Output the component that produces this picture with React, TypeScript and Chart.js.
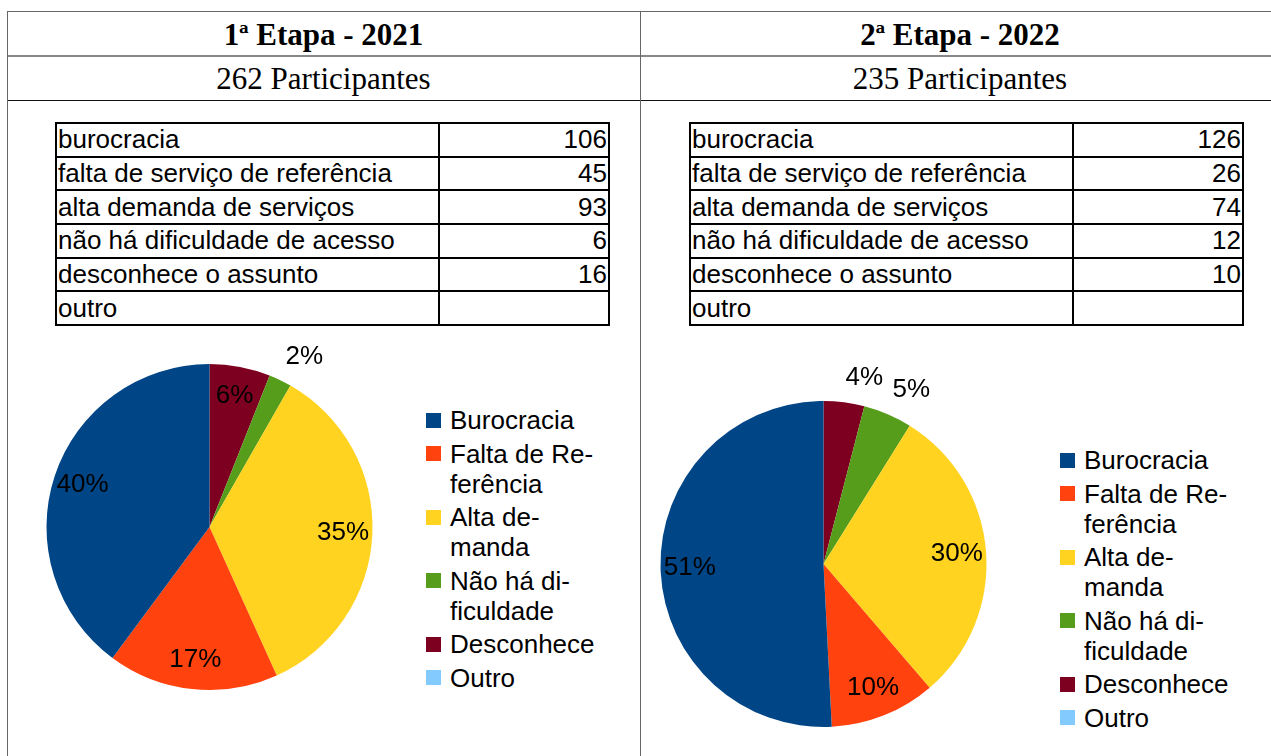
import React, { useEffect, useRef } from "react";
import { Chart, registerables } from "chart.js";

Chart.register(...registerables);

// ---- data ----
const categories = ["Burocracia", "Falta de Referência", "Alta demanda", "Não há dificuldade", "Desconhece", "Outro"];
const legendLines = [
  ["Burocracia"],
  ["Falta de Re-", "ferência"],
  ["Alta de-", "manda"],
  ["Não há di-", "ficuldade"],
  ["Desconhece"],
  ["Outro"],
];
const tableLabels = [
  "burocracia",
  "falta de serviço de referência",
  "alta demanda de serviços",
  "não há dificuldade de acesso",
  "desconhece o assunto",
  "outro",
];
const values2021: (number | null)[] = [106, 45, 93, 6, 16, null];
const values2022: (number | null)[] = [126, 26, 74, 12, 10, null];
const colors = ["#004586", "#ff420e", "#ffd320", "#579d1c", "#7e0021", "#83caff"];
const stageTitles = ["1ª Etapa - 2021", "2ª Etapa - 2022"];
const participants = ["262 Participantes", "235 Participantes"];

const SANS = "'Liberation Sans', Arial, sans-serif";
const SERIF = "'Liberation Serif', 'Times New Roman', serif";

const pctLabels = {
  id: "pctLabels",
  afterDatasetsDraw(chart: any) {
    const ctx = chart.ctx;
    const meta = chart.getDatasetMeta(0);
    const data = chart.data.datasets[0].data as number[];
    const total = data.reduce((a, b) => a + (b || 0), 0);
    ctx.save();
    ctx.font = `26px ${SANS}`;
    ctx.fillStyle = "#000";
    meta.data.forEach((arc: any, i: number) => {
      const v = data[i];
      if (!v) return;
      const p = arc.getProps(["x", "y", "startAngle", "endAngle", "outerRadius"], true);
      const mid = (p.startAngle + p.endAngle) / 2;
      const pct = (v / total) * 100;
      const txt = Math.round(pct) + "%";
      const cx = Math.cos(mid);
      const cy = Math.sin(mid);
      if (pct >= 5.5) {
        const d = p.outerRadius * 0.82;
        ctx.textAlign = "center";
        ctx.textBaseline = "middle";
        ctx.fillText(txt, p.x + cx * d, p.y + cy * d);
      } else {
        const d = p.outerRadius + 12;
        ctx.textAlign = cx >= 0 ? "left" : "right";
        ctx.textBaseline = cy < 0 ? "bottom" : "top";
        ctx.fillText(txt, p.x + cx * d, p.y + cy * d);
      }
    });
    ctx.restore();
  },
};

function Pie({ values, left, top }: { values: (number | null)[]; left: number; top: number }) {
  const ref = useRef<HTMLCanvasElement>(null);
  useEffect(() => {
    if (!ref.current) return;
    // drawn counter-clockwise from 12 o'clock in the original: reverse order, draw clockwise
    const labels = [...categories].reverse();
    const data = [...values].map((v) => (v == null ? 0 : v)).reverse();
    const bg = [...colors].reverse();
    const chart = new Chart(ref.current, {
      type: "pie",
      data: {
        labels,
        datasets: [{ data, backgroundColor: bg, borderWidth: 0 }],
      },
      options: {
        animation: false,
        responsive: false,
        devicePixelRatio: 1,
        layout: { padding: { left: 37, right: 37, top: 47, bottom: 47 } },
        plugins: { legend: { display: false }, tooltip: { enabled: false } },
        events: [],
      },
      plugins: [pctLabels],
    });
    return () => chart.destroy();
  }, [values]);
  return (
    <canvas
      ref={ref}
      width={401}
      height={420}
      style={{ position: "absolute", left, top, width: 401, height: 420 }}
    />
  );
}

function Legend({ left, top }: { left: number; top: number }) {
  return (
    <div style={{ position: "absolute", left, top, fontFamily: SANS, fontSize: 26, color: "#000" }}>
      {legendLines.map((lines, i) => (
        <div key={i} style={{ position: "relative", marginBottom: 3.5 }}>
          <div
            style={{
              position: "absolute",
              left: 0,
              top: 7.5,
              width: 15,
              height: 15,
              background: colors[i],
            }}
          />
          <div style={{ marginLeft: 24 }}>
            {lines.map((l, j) => (
              <div key={j} style={{ height: 30, lineHeight: "30px", whiteSpace: "nowrap" }}>
                {l}
              </div>
            ))}
          </div>
        </div>
      ))}
    </div>
  );
}

function DataTable({ values, left, top }: { values: (number | null)[]; left: number; top: number }) {
  return (
    <div
      style={{
        position: "absolute",
        left,
        top,
        width: 555,
        height: 204,
        boxSizing: "border-box",
        borderTop: "2px solid #000",
        borderLeft: "2px solid #000",
        display: "grid",
        gridTemplateColumns: "383px 1fr",
        gridTemplateRows: "repeat(6, 1fr)",
        fontFamily: SANS,
        fontSize: 26,
        color: "#000",
      }}
    >
      {tableLabels.map((lab, i) => (
        <React.Fragment key={i}>
          <div
            style={{
              borderRight: "2px solid #000",
              borderBottom: "2px solid #000",
              display: "flex",
              alignItems: "center",
              paddingLeft: 1,
              whiteSpace: "nowrap",
              overflow: "hidden",
            }}
          >
            {lab}
          </div>
          <div
            style={{
              borderRight: "2px solid #000",
              borderBottom: "2px solid #000",
              display: "flex",
              alignItems: "center",
              justifyContent: "flex-end",
              paddingRight: 1,
            }}
          >
            {values[i] == null ? "" : values[i]}
          </div>
        </React.Fragment>
      ))}
    </div>
  );
}

export default function App() {
  const line = (style: React.CSSProperties) => <div style={{ position: "absolute", ...style }} />;
  return (
    <div
      style={{
        position: "absolute",
        left: 0,
        top: 0,
        width: 1271,
        height: 756,
        overflow: "hidden",
        background: "#fff",
      }}
    >
      {/* outer frame */}
      {line({ left: 7, top: 11, width: 1300, height: 1, background: "#666" })}
      {line({ left: 7, top: 55, width: 1300, height: 2, background: "#888" })}
      {line({ left: 7, top: 100, width: 1300, height: 1, background: "#111" })}
      {line({ left: 7, top: 11, width: 1, height: 800, background: "#666" })}
      {line({ left: 640, top: 11, width: 1, height: 800, background: "#666" })}

      {[0, 1].map((c) => (
        <React.Fragment key={c}>
          <div
            style={{
              position: "absolute",
              left: c === 0 ? 7 : 640,
              width: c === 0 ? 633 : 640,
              top: 12,
              height: 43,
              lineHeight: "45px",
              textAlign: "center",
              fontFamily: SERIF,
              fontWeight: "bold",
              fontSize: 31,
              color: "#000",
            }}
          >
            {stageTitles[c]}
          </div>
          <div
            style={{
              position: "absolute",
              left: c === 0 ? 7 : 640,
              width: c === 0 ? 633 : 640,
              top: 57,
              height: 43,
              lineHeight: "43px",
              textAlign: "center",
              fontFamily: SERIF,
              fontSize: 31,
              color: "#000",
            }}
          >
            {participants[c]}
          </div>
        </React.Fragment>
      ))}

      <DataTable values={values2021} left={55} top={122} />
      <DataTable values={values2022} left={689} top={122} />

      <Pie values={values2021} left={9} top={317} />
      <Pie values={values2022} left={623} top={354} />

      <Legend left={426} top={405} />
      <Legend left={1060} top={445} />
    </div>
  );
}
